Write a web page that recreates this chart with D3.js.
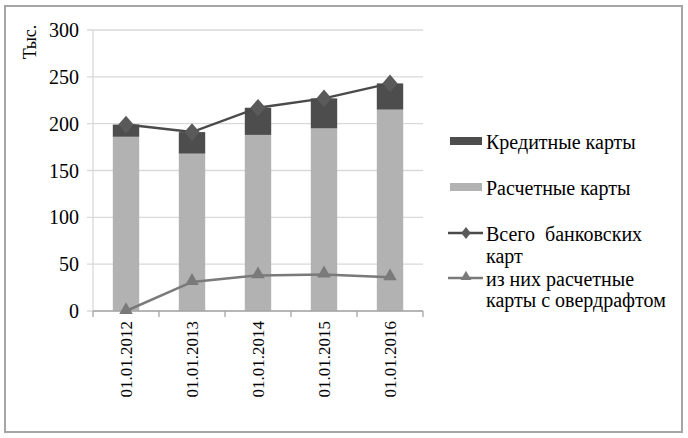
<!DOCTYPE html>
<html><head><meta charset="utf-8">
<script src="https://cdn.jsdelivr.net/npm/d3@7"></script>
<style>body{margin:0;background:#fff}svg{display:block}</style>
</head><body>
<svg id="c" width="688" height="438"></svg>
<script>
const categories = ["01.01.2012","01.01.2013","01.01.2014","01.01.2015","01.01.2016"];
const debitCards = [186, 168, 188, 195, 215];
const creditCards = [13, 23, 29, 32, 28];
const totalCards = [199, 191, 217, 227, 243];
const overdraftCards = [0, 31, 38, 39, 36];
const yTicks = [0, 50, 100, 150, 200, 250, 300];
const seriesNames = ["Кредитные карты", "Расчетные карты", "Всего банковских", "карт", "из них расчетные", "карты с овердрафтом"];

const FONT = "Times New Roman";
const svg = d3.select("#c");
svg.append("rect").attr("x",5).attr("y",6).attr("width",677).attr("height",426)
  .attr("fill","#fff").attr("stroke","#a6a6a6").attr("stroke-width",2);

const x0 = 93, x1 = 423, yTop = 30, yBot = 311;
const x = d3.scaleBand().domain(categories).range([x0, x1]).paddingInner(0.6).paddingOuter(0.3);
const xc = d3.scalePoint().domain(categories).range([x0, x1]).padding(0.5);
const y = d3.scaleLinear().domain([0, 300]).range([yBot, yTop]);

// gridlines
svg.append("g").selectAll("line").data(yTicks).join("line")
  .attr("x1", x0 - 6).attr("x2", x1).attr("y1", d => y(d)).attr("y2", d => y(d))
  .attr("stroke", "#d9d9d9").attr("stroke-width", 1.3);
svg.append("line").attr("x1",x0).attr("x2",x0).attr("y1",yTop).attr("y2",yBot).attr("stroke","#d9d9d9").attr("stroke-width",1.3);

// y tick labels
svg.append("g").selectAll("text").data(yTicks).join("text")
  .attr("x", x0 - 14).attr("y", d => y(d)).attr("dy", "0.35em").attr("text-anchor", "end")
  .attr("font-family", FONT).attr("font-size", 20).attr("fill", "#000")
  .text(d => d3.format("d")(d));

// bars
const g = svg.append("g");
g.selectAll(".deb").data(categories).join("rect")
  .attr("x", d => x(d)).attr("width", x.bandwidth())
  .attr("y", (d,i) => y(debitCards[i])).attr("height", (d,i) => y(0) - y(debitCards[i]))
  .attr("fill", "#b2b2b2");
g.selectAll(".cre").data(categories).join("rect")
  .attr("x", d => x(d)).attr("width", x.bandwidth())
  .attr("y", (d,i) => y(debitCards[i] + creditCards[i])).attr("height", (d,i) => y(debitCards[i]) - y(debitCards[i] + creditCards[i]))
  .attr("fill", "#4d4d4d");

// x axis
svg.append("line").attr("x1",x0).attr("x2",x1).attr("y1",yBot).attr("y2",yBot).attr("stroke","#a6a6a6").attr("stroke-width",1.3);
const bounds = [x0].concat(categories.map(c => x(c) + x.bandwidth()/2 + x.step()/2));
svg.selectAll(".xt").data(bounds).join("line")
  .attr("x1",d=>d).attr("x2",d=>d).attr("y1",yBot).attr("y2",yBot+6).attr("stroke","#a6a6a6").attr("stroke-width",1.3);
svg.append("g").selectAll("text").data(categories).join("text")
  .attr("transform", d => `translate(${xc(d)},${yBot + 10}) rotate(-90)`)
  .attr("text-anchor", "end").attr("dy", "0.35em")
  .attr("font-family", FONT).attr("font-size", 17).attr("fill", "#000")
  .text(d => d);

// lines
const line = d3.line().x((d,i) => xc(categories[i])).y(d => y(d));
svg.append("path").datum(totalCards).attr("d", line).attr("fill","none").attr("stroke","#4a4a4a").attr("stroke-width",2.5);
svg.append("path").datum(overdraftCards).attr("d", line).attr("fill","none").attr("stroke","#7a7a7a").attr("stroke-width",2.5);
const diamond = d3.symbol().type(d3.symbolDiamond).size(90);
const tri = d3.symbol().type(d3.symbolTriangle).size(80);
svg.selectAll(".dm").data(totalCards).join("path").attr("d", diamond)
  .attr("transform",(d,i)=>`translate(${xc(categories[i])},${y(d)}) scale(1.5,1)`).attr("fill","#5a5a5a");
svg.selectAll(".tr").data(overdraftCards).join("path").attr("d", tri)
  .attr("transform",(d,i)=>`translate(${xc(categories[i])},${y(d)-1})`).attr("fill","#7a7a7a");

// y title
svg.append("text").attr("transform","translate(36,42) rotate(-90)").attr("text-anchor","middle")
  .attr("font-family", FONT).attr("font-size", 18).attr("fill", "#000").text("Тыс.");

// legend
const lx = 450, tx = 486;
svg.append("rect").attr("x",lx).attr("y",137).attr("width",32).attr("height",8).attr("fill","#4d4d4d");
svg.append("rect").attr("x",lx).attr("y",183).attr("width",32).attr("height",8).attr("fill","#b2b2b2");
svg.append("line").attr("x1",lx-2).attr("x2",lx+33).attr("y1",233).attr("y2",233).attr("stroke","#4a4a4a").attr("stroke-width",2.5);
svg.append("path").attr("d", d3.symbol().type(d3.symbolDiamond).size(40)).attr("transform",`translate(${lx+16},233) scale(1.4,1)`).attr("fill","#5a5a5a");
svg.append("line").attr("x1",lx-2).attr("x2",lx+33).attr("y1",278).attr("y2",278).attr("stroke","#7a7a7a").attr("stroke-width",2.5);
svg.append("path").attr("d", d3.symbol().type(d3.symbolTriangle).size(50)).attr("transform",`translate(${lx+16},277)`).attr("fill","#7a7a7a");
const ly = [142, 188, 234, 256, 279, 300];
svg.append("g").selectAll("text").data(seriesNames).join("text")
  .attr("x", tx).attr("y",(d,i)=>ly[i]).attr("dy","0.35em")
  .attr("font-family", FONT).attr("font-size", 20).attr("fill", "#000")
  .attr("word-spacing", (d,i)=> i===2 ? 5 : 0)
  .text(d=>d);
</script>
</body></html>
